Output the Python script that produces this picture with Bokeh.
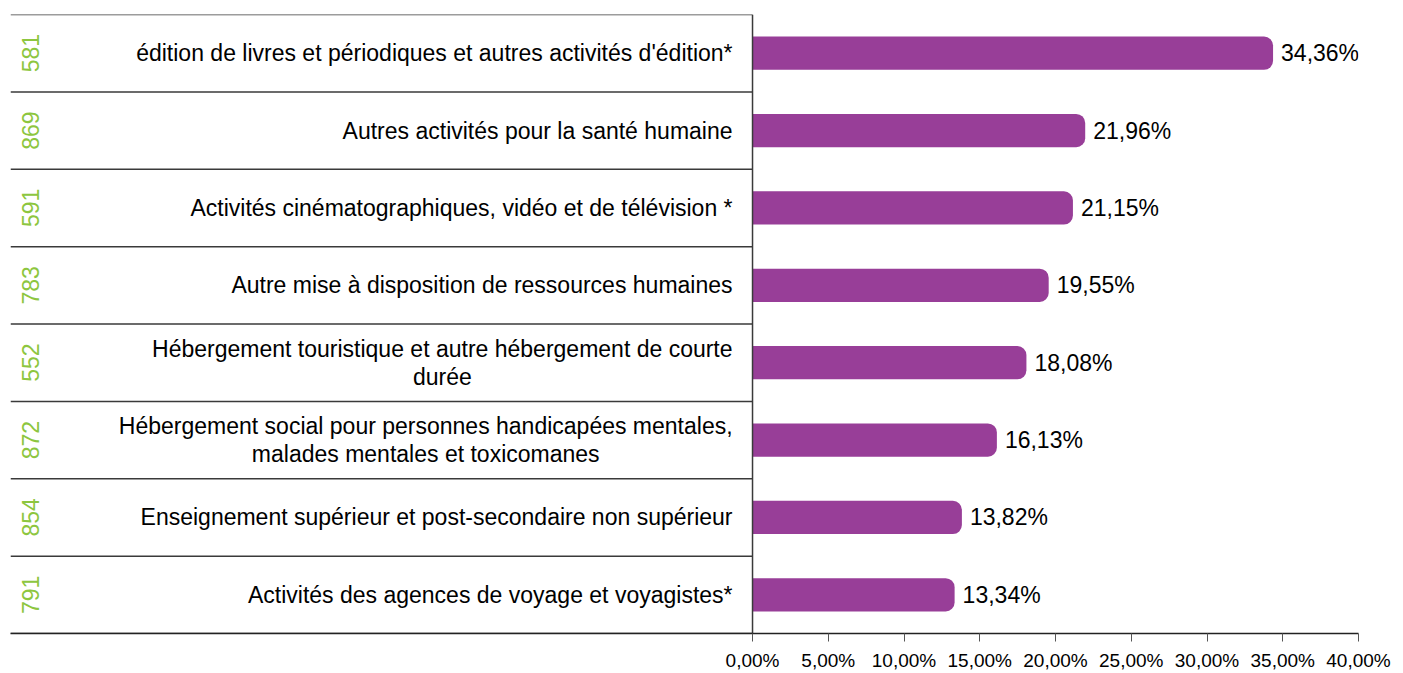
from bokeh.plotting import figure
from bokeh.models import Range1d, FixedTicker, ColumnDataSource
from bokeh.core.properties import value
from bokeh.embed import file_html
from bokeh.resources import INLINE
import math

codes = ["581", "869", "591", "783", "552", "872", "854", "791"]
categories = [
    "édition de livres et périodiques et autres activités d'édition*",
    "Autres activités pour la santé humaine",
    "Activités cinématographiques, vidéo et de télévision *",
    "Autre mise à disposition de ressources humaines",
    "Hébergement touristique et autre hébergement de courte\ndurée",
    "Hébergement social pour personnes handicapées mentales,\nmalades mentales et toxicomanes",
    "Enseignement supérieur et post-secondaire non supérieur",
    "Activités des agences de voyage et voyagistes*",
]
values = [34.36, 21.96, 21.15, 19.55, 18.08, 16.13, 13.82, 13.34]
tick_values = [0, 5, 10, 15, 20, 25, 30, 35, 40]
tick_labels = ["0,00%", "5,00%", "10,00%", "15,00%", "20,00%", "25,00%", "30,00%", "35,00%", "40,00%"]

FONT = "Liberation Sans"
CAT_SIZE = 23
BAR_COLOR = "#983E98"
CODE_COLOR = "#8DC63F"
LINE_COLOR = "#3a3a3a"

# Arial / Liberation Sans advance widths (per 1000 em) for centring wrapped labels
W = {' ': 278, ',': 278, 'a': 556, 'b': 556, 'c': 500, 'd': 556, 'e': 556, 'é': 556, 'f': 278,
     'g': 556, 'h': 556, 'i': 222, 'j': 222, 'k': 500, 'l': 222, 'm': 833, 'n': 556, 'o': 556,
     'p': 556, 'q': 556, 'r': 333, 's': 500, 't': 278, 'u': 556, 'v': 500, 'w': 722, 'x': 500,
     'y': 500, 'z': 500, 'H': 722}


def text_width(s, size):
    return sum(W.get(ch, 556) for ch in s) / 1000.0 * size


n = len(categories)
ys = list(range(n))
x_left = -48.98

p = figure(width=1395, height=673, x_range=Range1d(x_left, 40), y_range=Range1d(n - 0.5, -0.5),
           output_backend="svg", toolbar_location=None, y_axis_location=None,
           min_border_left=10, min_border_right=37, min_border_top=14, min_border_bottom=0)
p.outline_line_color = None
p.xgrid.visible = False
p.ygrid.visible = False

# bars
src = ColumnDataSource(dict(y=ys, v=values,
                            lab=[f"{v:.2f}".replace(".", ",") + "%" for v in values]))
p.hbar(y="y", left=0, right="v", height=0.43, source=src, fill_color=BAR_COLOR,
       line_color=None, border_radius=(0, 9, 9, 0))

# row separators and vertical divider
bounds = [i - 0.5 for i in range(n + 1)]
p.segment(x0=[x_left] * len(bounds), x1=[0] * len(bounds), y0=bounds, y1=bounds,
          line_color=LINE_COLOR, line_width=1.5)
p.segment(x0=[0], x1=[0], y0=[bounds[0]], y1=[bounds[-1]], line_color=LINE_COLOR, line_width=1.5)

# value labels
p.text(x="v", y="y", text="lab", source=src, x_offset=8, text_align="left",
       text_baseline="middle", text_font=value(FONT), text_font_size=f"{CAT_SIZE}px",
       text_color="#000000")

# category labels
single_x, single_y, single_t = [], [], []
multi_x, multi_y, multi_t, multi_xo, multi_yo = [], [], [], [], []
for y, c in zip(ys, categories):
    if "\n" in c:
        lines = c.split("\n")
        w = text_width(lines[0], CAT_SIZE)
        for k, ln in enumerate(lines):
            multi_x.append(0)
            multi_y.append(y)
            multi_t.append(ln)
            multi_xo.append(-20 - w / 2)
            multi_yo.append(-14 + 28 * k)
    else:
        single_x.append(0)
        single_y.append(y)
        single_t.append(c)

p.text(x=single_x, y=single_y, text=single_t, x_offset=-20, text_align="right",
       text_baseline="middle", text_font=value(FONT), text_font_size=f"{CAT_SIZE}px",
       text_color="#000000")
p.text(x="x", y="y", text="t", x_offset="xo", y_offset="yo",
       source=ColumnDataSource(dict(x=multi_x, y=multi_y, t=multi_t, xo=multi_xo, yo=multi_yo)),
       text_align="center", text_baseline="middle", text_font=value(FONT),
       text_font_size=f"{CAT_SIZE}px", text_color="#000000")

# codes (rotated, green)
p.text(x=[x_left] * n, y=ys, text=codes, x_offset=20, angle=math.pi / 2,
       text_align="center", text_baseline="middle", text_font=value(FONT),
       text_font_size="23px", text_color=CODE_COLOR)

# x axis
ax = p.xaxis[0]
ax.ticker = FixedTicker(ticks=tick_values)
ax.major_label_overrides = {t: l for t, l in zip(tick_values, tick_labels)}
ax.axis_line_color = "#222222"
ax.axis_line_width = 1.5
ax.major_tick_line_color = "#555555"
ax.major_tick_out = 8
ax.major_tick_in = 0
ax.minor_tick_line_color = None
ax.major_label_standoff = 8
ax.major_label_text_font = FONT
ax.major_label_text_font_size = "19px"
ax.major_label_text_color = "#000000"

open("out.html", "w").write(file_html(p, INLINE))
